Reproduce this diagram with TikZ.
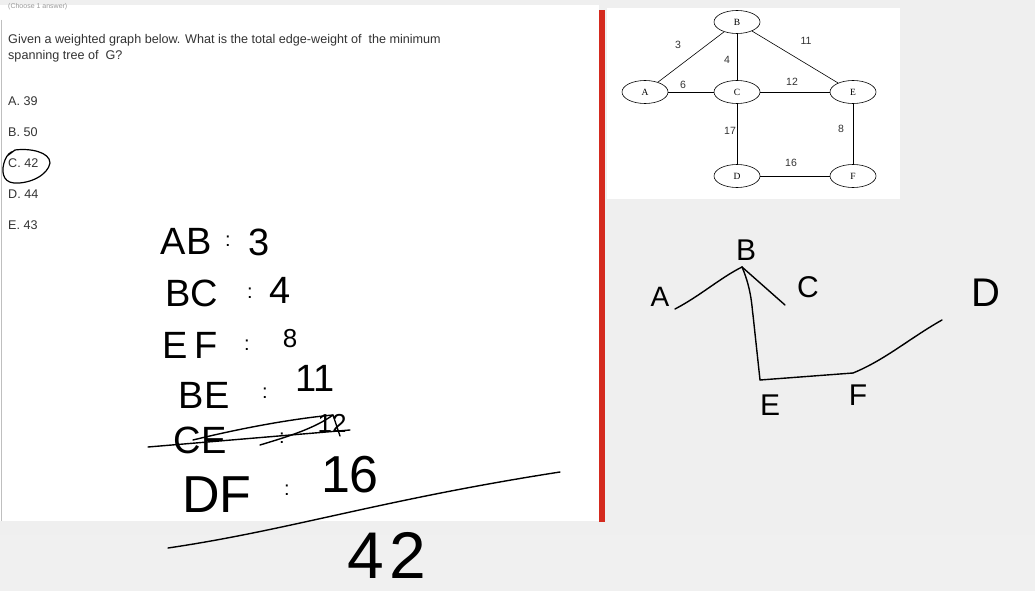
\documentclass[tikz,border=0pt]{standalone}
\usepackage{fontspec}
\setmainfont{Liberation Sans}
\newfontfamily\serifgraph{Liberation Serif}
\usetikzlibrary{shapes.geometric}
\definecolor{bggray}{HTML}{EFEFEF}
\definecolor{redbar}{HTML}{D42A1E}
\definecolor{qtext}{HTML}{333333}
\tikzset{
  qline/.style={anchor=base west, inner sep=0, text=qtext, font=\fontsize{12.6}{14}\selectfont},
  gnode/.style={draw, ellipse, minimum width=46pt, minimum height=23pt, inner sep=0, fill=white, font=\serifgraph\fontsize{9.5}{10}\selectfont, line width=0.6pt},
  gedge/.style={draw, line width=0.6pt},
  glabel/.style={inner sep=0, font=\fontsize{10.5}{11}\selectfont, text=qtext},
  hand/.style={inner sep=0, anchor=center, font=\fontsize{38}{40}\selectfont},
  handsm/.style={inner sep=0, anchor=center, font=\fontsize{26}{28}\selectfont},
  dotsep/.style={inner sep=0, anchor=center, font=\fontsize{20}{20}\selectfont},
  ink/.style={line width=1.4pt, line cap=round, line join=round, black},
}
\begin{document}
\begin{tikzpicture}[x=1pt,y=-1pt]
\useasboundingbox (0,0) rectangle (1035,591);
% backgrounds
\fill[bggray] (0,0) rectangle (1035,591);
\fill[white] (0,5) rectangle (599,521);
\fill[white] (607,8) rectangle (900,199);
\fill[black!6] (0,535) rectangle (1035,591);
\draw[black!25, line width=1.5pt] (1.5,20) -- (1.5,521);
\fill[redbar] (599,10) rectangle (605,522);
% faint header
\node[anchor=base west, inner sep=0, text=black!40, font=\fontsize{7}{8}\selectfont] (hdr) at (8,9) {(Choose 1 answer)};
% question
\node[qline] (q1) at (8,44) {Given a weighted graph below. What is the total edge-weight of \ the minimum};
\node[qline] (q2) at (8,60) {spanning tree of \ G?};
\node[qline] (oa) at (8,106) {A. 39};
\node[qline] (ob) at (8,136) {B. 50};
\node[qline] (oc) at (8,167) {C. 42};
\node[qline] (od) at (8,198) {D. 44};
\node[qline] (oe) at (8,229) {E. 43};
% circle around C. 42
\draw[ink, line width=1.2pt] (7,156) -- (15,150) .. controls (30,148) and (50,152) .. (50,163)
  .. controls (48,175) and (30,184) .. (14,183) .. controls (2,182) and (1,170) .. (5,160)
  .. controls (7,155) and (10,152) .. (14,151);
% graph
\node[gnode] (B) at (737,22) {B};
\node[gnode] (A) at (645,92) {A};
\node[gnode] (C) at (737,92) {C};
\node[gnode] (E) at (853,92) {E};
\node[gnode] (D) at (737,176) {D};
\node[gnode] (F) at (853,176) {F};
\draw[gedge] (A) -- (B);
\draw[gedge] (B) -- (C);
\draw[gedge] (B) -- (E);
\draw[gedge] (A) -- (C);
\draw[gedge] (C) -- (E);
\draw[gedge] (C) -- (D);
\draw[gedge] (E) -- (F);
\draw[gedge] (D) -- (F);
\node[glabel] (w3) at (678,45) {3};
\node[glabel] (w4) at (727,60) {4};
\node[glabel] (w11) at (806,41) {11};
\node[glabel] (w6) at (683,85) {6};
\node[glabel] (w12) at (792,82) {12};
\node[glabel] (w17) at (730,131) {17};
\node[glabel] (w8) at (841,129) {8};
\node[glabel] (w16) at (791,163) {16};
% handwritten list
\node[hand] (r1a) at (186,241) {AB};
\node[dotsep] (r1b) at (228,241) {:};
\node[hand] (r1c) at (259,242) {3};
\node[hand] (r2a) at (192,293) {BC};
\node[dotsep] (r2b) at (250,293) {:};
\node[hand] (r2c) at (280,290) {4};
\node[hand] (r3a) at (190,345) {E\,F};
\node[dotsep] (r3b) at (247,345) {:};
\node[handsm] (r3c) at (290,339) {8};
\node[hand] (r4a) at (204,395) {BE};
\node[dotsep] (r4b) at (265,393) {:};
\node[hand] (r4c) at (315,378) {11};
\node[hand] (r5a) at (200,440) {CE};
\node[dotsep] (r5b) at (282,438) {:};
\node[handsm] (r5c) at (332,423) {12};
\node[font=\fontsize{52}{54}\selectfont, inner sep=0] (r6a) at (217,495) {DF};
\node[dotsep] (r6b) at (287,490) {:};
\node[font=\fontsize{52}{54}\selectfont, inner sep=0] (r6c) at (350,475) {16};
\node[font=\fontsize{66}{68}\selectfont, inner sep=0] (tot) at (387,555) {4\kern6pt2};
% strike-through of CE : 12
\coordinate (s1) at (148,447);
\coordinate (s2) at (350,430);
\coordinate (s3) at (193,440);
\coordinate (s4) at (333,415);
\coordinate (s5) at (260,445);
\coordinate (s6) at (340,436);
\draw[ink] (s1) -- (s2);
\draw[ink] (s3) .. controls (250,426) and (300,418) .. (s4);
\draw[ink] (s5) .. controls (290,436) and (315,428) .. (s4) -- (s6);
% total underline
\coordinate (u1) at (168,548);
\coordinate (u2) at (560,472);
\draw[ink] (u1) .. controls (290,530) and (380,500) .. (u2);
% handwritten tree
\node[font=\fontsize{30}{32}\selectfont, inner sep=0] (hB) at (746,250) {B};
\node[font=\fontsize{28}{30}\selectfont, inner sep=0] (hA) at (660,297) {A};
\node[font=\fontsize{30}{32}\selectfont, inner sep=0] (hC) at (808,287) {C};
\node[font=\fontsize{40}{42}\selectfont, inner sep=0] (hD) at (986,293) {D};
\node[font=\fontsize{30}{32}\selectfont, inner sep=0] (hE) at (770,405) {E};
\node[font=\fontsize{30}{32}\selectfont, inner sep=0] (hF) at (858,395) {F};
\coordinate (tA) at (675,309);
\coordinate (tB) at (742,267);
\coordinate (tC) at (785,305);
\coordinate (tE) at (760,380);
\coordinate (tF) at (853,373);
\coordinate (tD) at (942,320);
\draw[ink] (tA) .. controls (700,296) and (720,278) .. (tB);
\draw[ink] (tB) -- (tC);
\draw[ink] (tB) .. controls (752,290) and (752,310) .. (753,315) -- (tE);
\draw[ink] (tE) -- (tF);
\draw[ink] (tF) .. controls (885,360) and (910,338) .. (tD);
\end{tikzpicture}
\end{document}
